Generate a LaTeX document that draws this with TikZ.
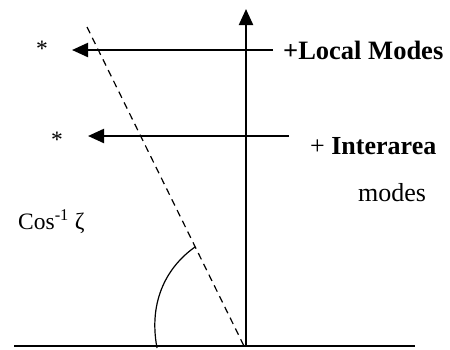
\documentclass[tikz,border=0pt]{standalone}
\usepackage{fontspec}
\setmainfont{Liberation Serif}
\usetikzlibrary{arrows.meta}
\begin{document}
\begin{tikzpicture}[x=1pt,y=-1pt,
  axis/.style={line width=2.2pt},
  arr/.style={line width=2.2pt,-{Triangle[length=16pt,width=14pt]}},
  lbl/.style={inner sep=0pt,font=\fontsize{26}{30}\selectfont},
  clbl/.style={inner sep=0pt,font=\fontsize{23.5}{28}\selectfont},
  blbl/.style={inner sep=0pt,font=\fontsize{26.5}{30}\selectfont\bfseries}]
\useasboundingbox (0,0) rectangle (450,349);
\coordinate (o) at (246,346);
\coordinate (top) at (246,9);
\coordinate (hl) at (14,346);
\coordinate (hr) at (415,346);
\draw[axis] (hl) -- (hr);
\draw[arr] (o) -- (top);
% mode arrows
\coordinate (a1s) at (273,50);
\coordinate (a1e) at (72,50);
\coordinate (a2s) at (289,136);
\coordinate (a2e) at (88,136);
\draw[arr] (a1s) -- (a1e);
\draw[arr] (a2s) -- (a2e);
% dashed
\coordinate (d1) at (87,27);
\coordinate (d2) at (244,346);
\draw[line width=1.2pt,dash pattern=on 7pt off 5pt] (d1) -- (d2);
% arc
\coordinate (c1) at (195,247);
\coordinate (c2) at (157,348);
\draw[line width=1.2pt] (c1) .. controls (168,266) and (148,300) .. (c2);
% labels
\node[clbl,anchor=center] (s1) at (42,49) {*};
\node[clbl,anchor=center] (s2) at (57,140) {*};
\node[blbl,anchor=west] (lm) at (283,50) {+Local Modes};
\node[lbl,anchor=west] (ia) at (310,146) {+ \textbf{Interarea}};
\node[lbl,anchor=west] (md) at (358,193) {modes};
\node[clbl,anchor=west] (cz) at (18,222) {Cos\textsuperscript{-1} ζ};
\end{tikzpicture}
\end{document}
